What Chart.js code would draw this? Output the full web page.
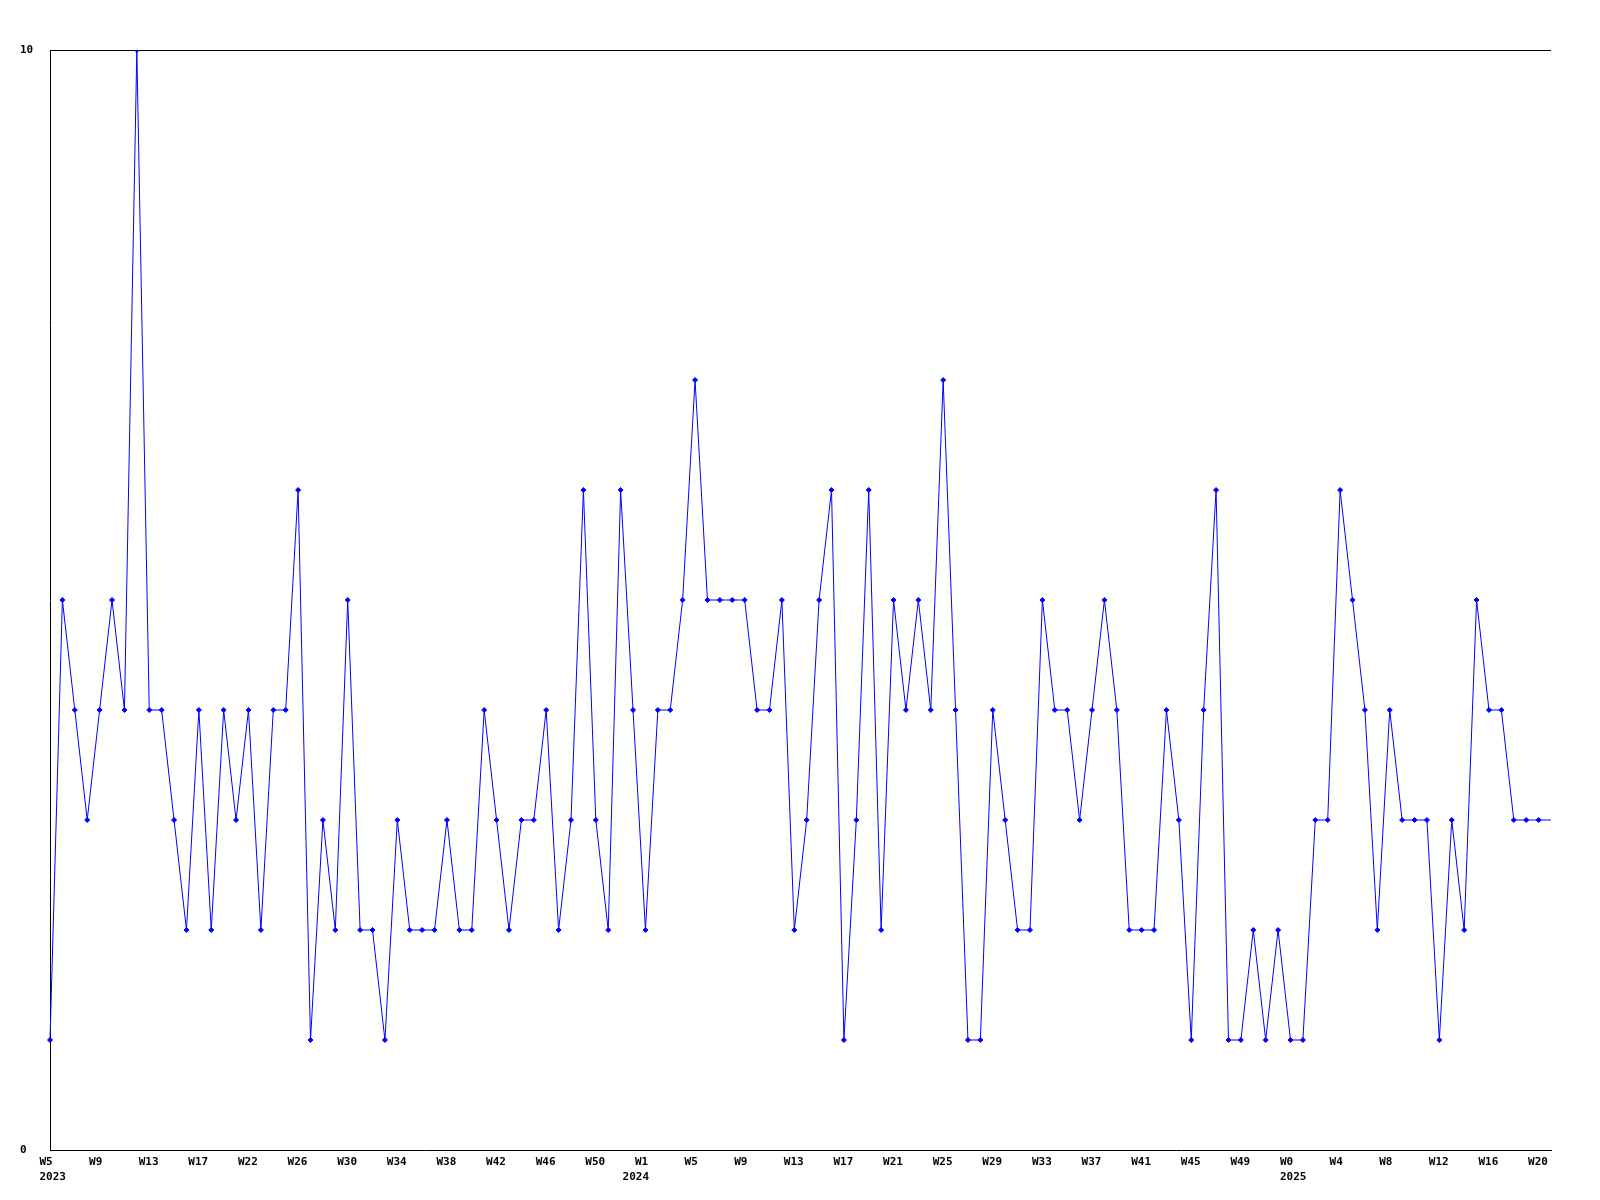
<!DOCTYPE html>
<html>
<head>
<meta charset="utf-8">
<script src="https://cdn.jsdelivr.net/npm/chart.js@4/dist/chart.umd.min.js"></script>
<style>
  body { margin: 0; background: #fff; }
  #chart { display: block; }
</style>
</head>
<body>
<canvas id="chart" width="1600" height="1200"></canvas>
<script>
// weekly counts, one point per week (2023 W5 .. 2025 W20, last one partial)
const weeklyCounts = [
  1, 5, 4, 3, 4, 5, 4, 10, 4, 4, 3, 2, 4, 2, 4, 3, 4, 2, 4, 4,
  6, 1, 3, 2, 5, 2, 2, 1, 3, 2, 2, 2, 3, 2, 2, 4, 3, 2, 3, 3,
  4, 2, 3, 6, 3, 2, 6, 4, 2, 4, 4, 5, 7, 5, 5, 5, 5, 4, 4, 5,
  2, 3, 5, 6, 1, 3, 6, 2, 5, 4, 5, 4, 7, 4, 1, 1, 4, 3, 2, 2,
  5, 4, 4, 3, 4, 5, 4, 2, 2, 2, 4, 3, 1, 4, 6, 1, 1, 2, 1, 2,
  1, 1, 3, 3, 6, 5, 4, 2, 4, 3, 3, 3, 1, 3, 2, 5, 4, 4, 3, 3,
  3, 3
];

// labels shown on every 4th week
const tickWeeks = [
  'W5', 'W9', 'W13', 'W17', 'W22', 'W26', 'W30', 'W34', 'W38', 'W42', 'W46', 'W50',
  'W1', 'W5', 'W9', 'W13', 'W17', 'W21', 'W25', 'W29', 'W33', 'W37', 'W41', 'W45', 'W49',
  'W0', 'W4', 'W8', 'W12', 'W16', 'W20'
];
// year label under the first week of each year
const yearNames = ['2023', '2024', '2025'];
const yearAtPoint = [0, 47, 100];

const yTicks = [0, 10];

const labels = weeklyCounts.map((v, i) => {
  const week = i % 4 === 0 ? tickWeeks[i / 4] : '';
  const y = yearAtPoint.indexOf(i);
  return y >= 0 ? [week, yearNames[y]] : week;
});

const font = { family: '"DejaVu Sans Mono", monospace', size: 11, weight: 'bold', lineHeight: 1.35 };
const lastIdx = weeklyCounts.length - 1;

new Chart(document.getElementById('chart'), {
  type: 'line',
  data: {
    labels: labels,
    datasets: [{
      data: weeklyCounts,
      borderColor: '#0000ff',
      backgroundColor: '#0000ff',
      borderWidth: 1,
      tension: 0,
      pointStyle: 'rectRot',
      pointRadius: ctx => ctx.dataIndex === lastIdx ? 0 : 2.5,
      pointBorderWidth: 1,
      pointBorderColor: '#0000ff',
      pointBackgroundColor: '#0000ff'
    }]
  },
  options: {
    responsive: false,
    animation: false,
    layout: { padding: { top: 50, right: 49, bottom: 0, left: 20 } },
    plugins: {
      legend: { display: false },
      tooltip: { enabled: false }
    },
    scales: {
      x: {
        type: 'category',
        offset: false,
        grid: { display: false, drawTicks: false },
        border: { display: true, color: '#000', width: 1 },
        ticks: {
          autoSkip: false,
          maxRotation: 0,
          minRotation: 0,
          align: 'start',
          labelOffset: -10.5,
          padding: 5,
          color: '#000',
          font: font
        },
        afterFit: scale => { scale.height = 50; }
      },
      y: {
        min: 0,
        max: 10,
        afterBuildTicks: scale => { scale.ticks = yTicks.map(v => ({ value: v })); },
        grid: {
          drawTicks: false,
          color: ctx => (ctx.tick && ctx.tick.value === 10) ? '#000' : 'rgba(0,0,0,0)'
        },
        border: { display: true, color: '#000', width: 1 },
        ticks: {
          crossAlign: 'far',
          padding: 0,
          color: '#000',
          font: font
        },
        afterFit: scale => { scale.width = 30; }
      }
    }
  }
});
</script>
</body>
</html>
